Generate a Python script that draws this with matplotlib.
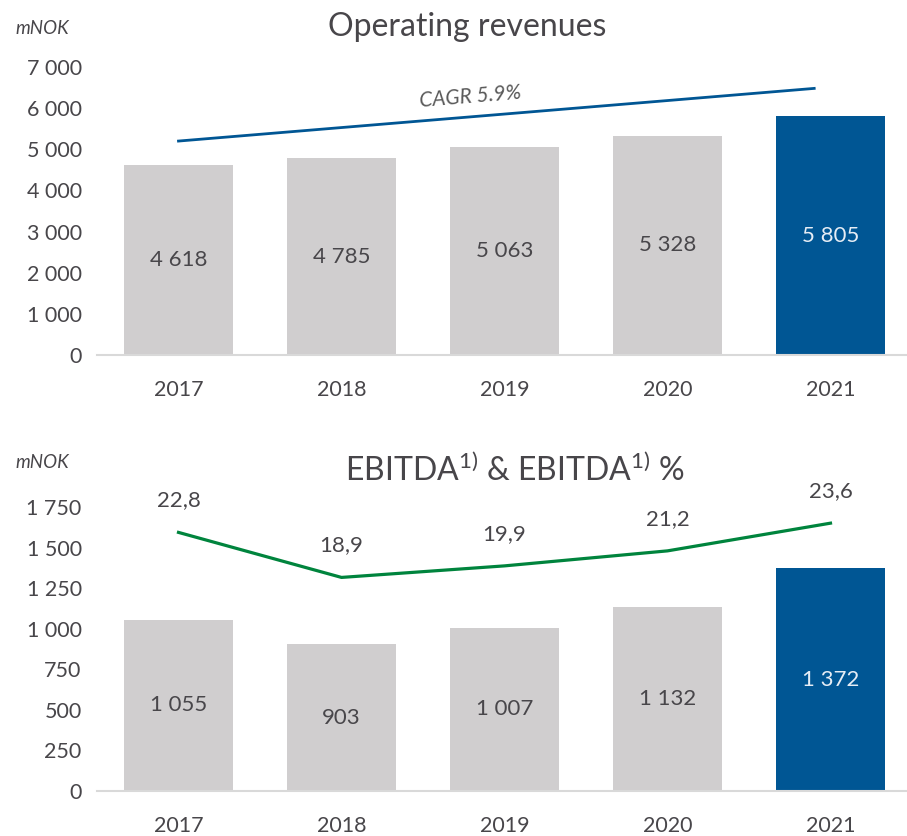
import matplotlib.pyplot as plt
import numpy as np
from matplotlib.ticker import FuncFormatter

plt.rcParams["font.family"] = ["Lato", "DejaVu Sans"]
plt.rcParams["mathtext.fontset"] = "custom"
plt.rcParams["mathtext.rm"] = "Lato"

YEARS = ["2017", "2018", "2019", "2020", "2021"]
REVENUES = [4618, 4785, 5063, 5328, 5805]
EBITDA = [1055, 903, 1007, 1132, 1372]
EBITDA_PCT = [22.8, 18.9, 19.9, 21.2, 23.6]
CAGR_LINE = [5200, 6480]      # start / end level of the CAGR trend line
CAGR_LABEL = "CAGR 5.9%"

GRAY = "#d0cecf"
BLUE = "#005694"
GREEN = "#00843d"
TEXT = "#48464a"
AXIS = "#d9d9d9"

W, H = 907, 836


def space_thousands(v, _pos=None):
    return f"{int(round(v)):,}".replace(",", " ")


def style_axis(ax, ymax, step):
    ax.set_xlim(-0.5, 4.5)
    ax.set_ylim(0, ymax)
    ax.set_yticks(np.arange(0, ymax + 1, step))
    ax.yaxis.set_major_formatter(FuncFormatter(space_thousands))
    ax.set_xticks(range(len(YEARS)))
    ax.set_xticklabels(YEARS)
    for s in ["top", "right", "left"]:
        ax.spines[s].set_visible(False)
    ax.spines["bottom"].set_color(AXIS)
    ax.spines["bottom"].set_linewidth(1.5)
    ax.tick_params(axis="both", length=0, labelsize=15.5, colors=TEXT)
    ax.tick_params(axis="x", pad=18)
    ax.tick_params(axis="y", pad=11)


def draw_bars(ax, values):
    x = np.arange(len(values))
    colors = [GRAY] * (len(values) - 1) + [BLUE]
    ax.bar(x, values, width=0.67, color=colors, zorder=2)
    for i, v in enumerate(values):
        c = "#e6edf5" if i == len(values) - 1 else TEXT
        ax.text(i, v / 2, space_thousands(v), ha="center", va="center",
                fontsize=16, color=c, zorder=3)


fig = plt.figure(figsize=(W / 100, H / 100), dpi=100)

# top panel: operating revenues
ax1 = fig.add_axes([97 / W, (H - 355) / H, 815 / W, 288 / H])
style_axis(ax1, 7000, 1000)
draw_bars(ax1, REVENUES)
ax1.plot([0, 3.9], CAGR_LINE, color=BLUE, lw=2.0, zorder=3)
ax1.text(1.79, 6270, CAGR_LABEL, rotation=4.7, ha="center", va="center",
         fontsize=15, style="italic", color="#595959")
fig.text(467 / W, 1 - 27 / H, "Operating revenues", ha="center", va="center",
         fontsize=23, color=TEXT)
fig.text(15 / W, 1 - 29 / H, "mNOK", ha="left", va="center",
         fontsize=13.5, style="italic", color=TEXT)

# bottom panel: EBITDA and EBITDA %
ax2 = fig.add_axes([97 / W, (H - 791) / H, 815 / W, 284 / H])
style_axis(ax2, 1750, 250)
draw_bars(ax2, EBITDA)
ax2b = ax2.twinx()
ax2b.set_ylim(0.4, 25.0)
ax2b.axis("off")
ax2b.plot(range(len(EBITDA_PCT)), EBITDA_PCT, color=GREEN, lw=2.3)
for i, p in enumerate(EBITDA_PCT):
    ax2b.annotate(f"{p:.1f}".replace(".", ","), (i, p), xytext=(0, 32),
                  textcoords="offset pixels", ha="center", va="center",
                  fontsize=16, color=TEXT, annotation_clip=False)
fig.text(515 / W, 1 - 470 / H, r"EBITDA$^{\mathrm{1)}}$ & EBITDA$^{\mathrm{1)}}$ %",
         ha="center", va="center", fontsize=23, color=TEXT)
fig.text(15 / W, 1 - 463 / H, "mNOK", ha="left", va="center",
         fontsize=13.5, style="italic", color=TEXT)

fig.savefig("out.png", dpi=100)
